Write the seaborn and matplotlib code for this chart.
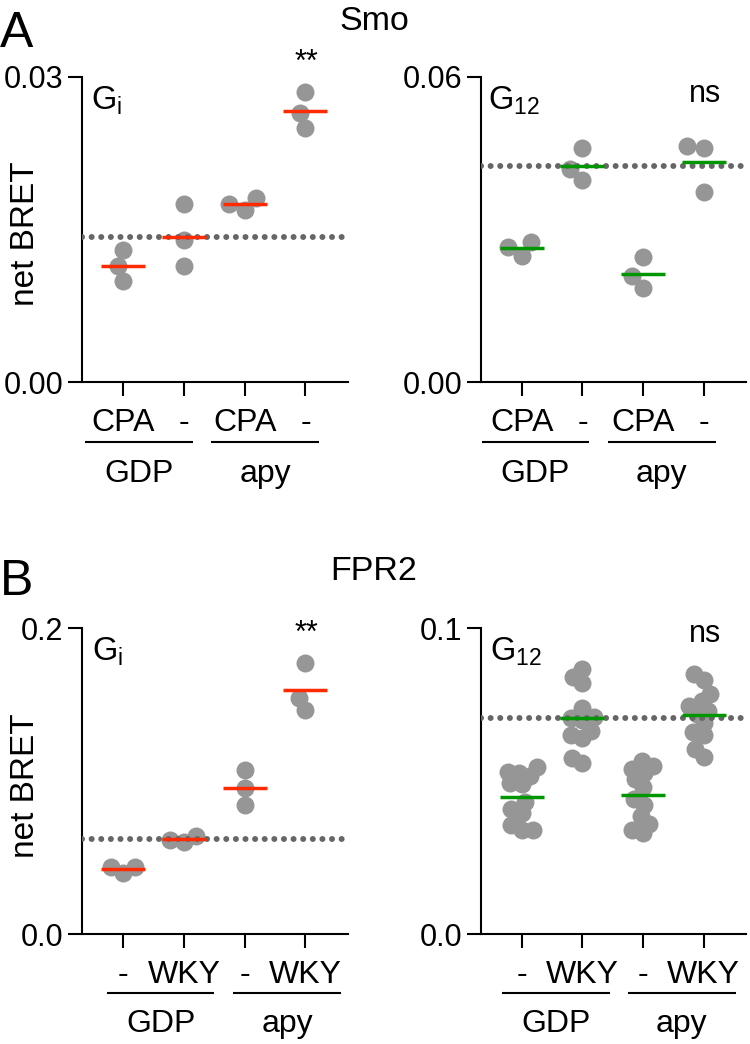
import numpy as np
import pandas as pd
import matplotlib.pyplot as plt
from matplotlib import transforms
import seaborn as sns

# x categories (unique keys) and the labels shown under each tick
smo_groups = ["GDP/CPA", "GDP/-", "apy/CPA", "apy/-"]
smo_ticklabels = ["CPA", "-", "CPA", "-"]
fpr_groups = ["GDP/-", "GDP/WKY", "apy/-", "apy/WKY"]
fpr_ticklabels = ["-", "WKY", "-", "WKY"]

# net BRET values
smo_gi = [[0.0130, 0.0114, 0.0099],
          [0.0175, 0.0140, 0.0114],
          [0.0169, 0.0181, 0.0175],
          [0.0285, 0.0265, 0.0250]]
smo_g12 = [[0.0248, 0.0275, 0.0266],
           [0.0460, 0.0397, 0.0419],
           [0.0246, 0.0209, 0.0185],
           [0.0464, 0.0460, 0.0374]]
fpr_gi = [[0.0401, 0.0436, 0.0440],
          [0.0603, 0.0641, 0.0614],
          [0.1072, 0.0956, 0.0843],
          [0.1773, 0.1540, 0.1464]]
fpr_g12 = [[0.0530, 0.0525, 0.0545, 0.0515, 0.0495, 0.0490, 0.0430, 0.0410, 0.0395, 0.0340, 0.0340, 0.0355],
           [0.0865, 0.0840, 0.0820, 0.0740, 0.0710, 0.0705, 0.0700, 0.0665, 0.0650, 0.0640, 0.0575, 0.0560],
           [0.0565, 0.0550, 0.0540, 0.0525, 0.0505, 0.0480, 0.0440, 0.0420, 0.0385, 0.0360, 0.0330, 0.0340],
           [0.0850, 0.0830, 0.0785, 0.0760, 0.0745, 0.0730, 0.0720, 0.0690, 0.0660, 0.0650, 0.0605, 0.0580]]

smo_gi_yticks = ["0.00", "0.03"]
smo_g12_yticks = ["0.00", "0.06"]
fpr_gi_yticks = ["0.0", "0.2"]
fpr_g12_yticks = ["0.0", "0.1"]

RED = "#ff2a00"
GREEN = "#009600"
DOT_GREY = "#969696"
LINE_GREY = "#666666"

sns.set_style("ticks")
plt.rcParams["font.family"] = ["Liberation Sans", "DejaVu Sans"]
plt.rcParams["text.color"] = "black"
plt.rcParams["mathtext.fontset"] = "custom"
plt.rcParams["mathtext.rm"] = "Liberation Sans"
plt.rcParams["mathtext.it"] = "Liberation Sans:italic"
plt.rcParams["mathtext.bf"] = "Liberation Sans:bold"

W, H = 750, 1044
fig = plt.figure(figsize=(W / 100, H / 100), dpi=100)


def add_ax(left, right, top, bottom):
    return fig.add_axes([left / W, 1 - bottom / H, (right - left) / W, (bottom - top) / H])


def to_long(groups, values):
    return pd.DataFrame({
        "group": np.repeat(groups, [len(v) for v in values]),
        "value": np.concatenate(values),
    })


def draw_panel(ax, groups, values, ticklabels, ymax, yticklabels, color,
               sub, mark, mark_y, brackets, swarm_px, ylabel=True, row="A"):
    df = to_long(groups, values)
    sns.swarmplot(data=df, x="group", y="value", order=groups, color=DOT_GREY,
                  size=swarm_px * 0.72, linewidth=0, ax=ax, zorder=2)
    # dotted reference at the mean of the second group
    base = np.mean(values[1])
    ax.axhline(base, color=LINE_GREY, lw=4.3, linestyle=(0, (0.01, 1.6)),
               dash_capstyle="round", zorder=3)
    sns.pointplot(data=df, x="group", y="value", order=groups, estimator="mean",
                  errorbar=None, color=color, markers="_", linestyle="none",
                  markersize=31.5, markeredgewidth=2.5, ax=ax, zorder=4)

    ax.set_xlim(-0.675, 3.7)
    ax.set_ylim(0, ymax)
    ax.set_yticks([0, ymax])
    ax.set_yticklabels(yticklabels)
    ax.set_xticks(range(len(groups)))
    ax.set_xticklabels(ticklabels)
    ax.set_xlabel("")
    ax.set_ylabel("")
    sns.despine(ax=ax)
    for s in ["left", "bottom"]:
        ax.spines[s].set_linewidth(1.5)
        ax.spines[s].set_color("black")
    ax.tick_params(axis="both", direction="out", length=10, width=1.5, colors="black")
    ax.tick_params(axis="y", labelsize=22, pad=3.5)
    ax.tick_params(axis="x", labelsize=23, pad=8.5)

    if ylabel:
        ax.text(-0.212, 0.485, "net BRET", rotation=90, transform=ax.transAxes,
                ha="center", va="center", fontsize=24)

    ax.text(sub[0], sub[1], sub[2], transform=ax.transAxes, fontsize=23.5,
            ha="left", va="baseline")
    blend = transforms.blended_transform_factory(ax.transData, ax.transAxes)
    ax.text(3.02, mark_y, mark, transform=blend,
            ha="center", va="baseline", fontsize=22)

    line_y, text_y = (-0.197, -0.328) if row == "A" else (-0.193, -0.320)
    for x0, x1, name in brackets:
        ax.plot([x0, x1], [line_y, line_y], color="black", lw=1.5,
                transform=blend, clip_on=False, solid_capstyle="butt")
        ax.text((x0 + x1) / 2, text_y, name, transform=blend, ha="center",
                va="baseline", fontsize=23)


ax_a1 = add_ax(82, 348, 77, 382)
ax_a2 = add_ax(481, 746, 77, 382)
ax_b1 = add_ax(82, 348, 628, 934)
ax_b2 = add_ax(481, 746, 628, 934)

draw_panel(ax_a1, smo_groups, smo_gi, smo_ticklabels, 0.03, smo_gi_yticks, RED,
           (0.035, 0.892, r"G$_\mathregular{i}$"), "**", 1.02,
           [(-0.63, 1.15, "GDP"), (1.45, 3.23, "apy")], 16, row="A")
draw_panel(ax_a2, smo_groups, smo_g12, smo_ticklabels, 0.06, smo_g12_yticks, GREEN,
           (0.026, 0.892, r"G$_\mathregular{12}$"), "ns", 0.918,
           [(-0.66, 1.10, "GDP"), (1.42, 3.20, "apy")], 16, ylabel=False, row="A")
draw_panel(ax_b1, fpr_groups, fpr_gi, fpr_ticklabels, 0.2, fpr_gi_yticks, RED,
           (0.037, 0.895, r"G$_\mathregular{i}$"), "**", 0.955,
           [(-0.26, 1.50, "GDP"), (1.81, 3.59, "apy")], 13, row="B")
draw_panel(ax_b2, fpr_groups, fpr_g12, fpr_ticklabels, 0.1, fpr_g12_yticks, GREEN,
           (0.034, 0.895, r"G$_\mathregular{12}$"), "ns", 0.954,
           [(-0.33, 1.45, "GDP"), (1.75, 3.53, "apy")], 11, ylabel=False, row="B")

fig.text(0.0, 1 - 47 / H, "A", fontsize=36, ha="left", va="baseline")
fig.text(374 / W, 1 - 30 / H, "Smo", fontsize=24.5, ha="center", va="baseline")
fig.text(0.0, 1 - 595 / H, "B", fontsize=36, ha="left", va="baseline")
fig.text(374 / W, 1 - 580 / H, "FPR2", fontsize=24.5, ha="center", va="baseline")

# let seaborn lay out the swarms with a tighter spacing, then freeze them
# and show the dots at their full size so they overlap like the original
fig.canvas.draw()
for ax in [ax_a1, ax_a2, ax_b1, ax_b2]:
    for coll in ax.collections:
        if "draw" in coll.__dict__:
            offs = np.asarray(coll.get_offsets()).copy()
            del coll.draw
            coll.set_offsets(offs)
            coll.set_sizes([(18 * 0.72) ** 2])

fig.savefig("out.png", dpi=100)
